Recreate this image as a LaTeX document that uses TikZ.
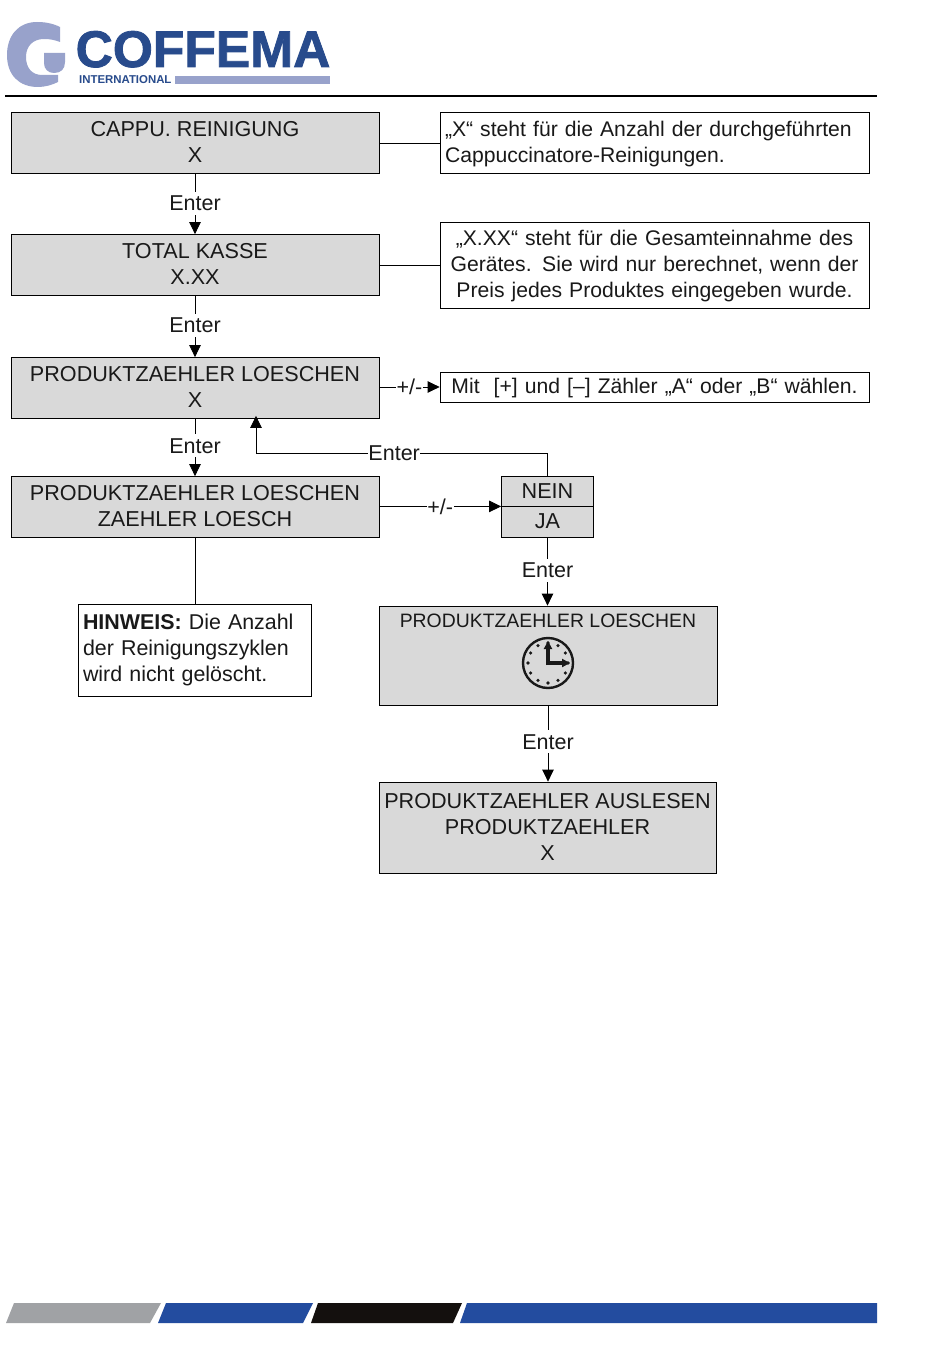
\documentclass[tikz,border=0pt]{standalone}
\usepackage{fontspec}
\setmainfont{Liberation Sans}
\newfontfamily\logofont{Liberation Sans}[BoldFeatures={FakeBold=1.6}]
\usetikzlibrary{arrows.meta}
\newcommand{\upfix}{\rule[-2pt]{0pt}{1pt}}
\newcommand{\downfix}{\rule{0pt}{18pt}}
\definecolor{boxgray}{HTML}{D9D9D9}
\definecolor{logoblue}{HTML}{284B8C}
\definecolor{logolight}{HTML}{98A2CB}
\definecolor{barblue}{HTML}{234C9F}
\definecolor{bargray}{HTML}{A0A2A5}
\definecolor{barblack}{HTML}{14100E}
\tikzset{
  basebox/.style={draw=black,line width=0.8pt,inner sep=0pt,align=center,text=black!90,
    font=\fontsize{21.6}{26}\selectfont},
  graybox/.style={basebox,fill=boxgray},
  notebox/.style={basebox,fill=white,font=\fontsize{21.15}{26}\selectfont},
  conn/.style={draw=black,line width=0.8pt},
  arrowconn/.style={conn,-{Triangle[length=12pt,width=11.5pt]}},
  lbl/.style={fill=white,inner xsep=0.5pt,inner ysep=4pt,text=black!90,font=\fontsize{21.5}{26}\selectfont},
  clockline/.style={draw=black!90,line width=2.4pt},
}
\begin{document}
\begin{tikzpicture}[x=1pt,y=-1pt]
\useasboundingbox[fill=white] (0,0) rectangle (950,1370);
% logo
\fill[logolight] (60,27) .. controls (52,23) and (44,22) .. (37,22)
  .. controls (18,22) and (7,36) .. (7,55)
  .. controls (7,75) and (19,87) .. (38,87)
  .. controls (45,87) and (52,85) .. (58,82) -- (58,75) -- (42,75)
  .. controls (32,75) and (26,68) .. (26,57)
  .. controls (26,46) and (33,39) .. (44,39)
  .. controls (50,39) and (55,40) .. (60,42) -- cycle;
\fill[logolight] (44,53) -- (65,53) -- (65,62) .. controls (65,69) and (61,73) .. (54,73)
  .. controls (48,73) and (44,69) .. (44,63) -- cycle;
\node[anchor=base west,inner sep=0pt,text=logoblue,font=\fontsize{51.5}{52}\logofont\bfseries] (logoname) at (75.5,67) {COFFEMA};
\node[anchor=base west,inner sep=0pt,text=logoblue,font=\fontsize{11.4}{12}\selectfont\bfseries] (logointl) at (79,84) {INTERNATIONAL};
\fill[logolight] (175,76) rectangle (330,84);
\draw[black,line width=1.8pt] (5,96) -- (877,96);
% main boxes
\node[graybox,minimum width=368pt,minimum height=61pt] (a) at (195,143) {CAPPU. REINIGUNG\\X\upfix};
\node[graybox,minimum width=368pt,minimum height=61pt] (b) at (195,265) {TOTAL KASSE\\X.XX\upfix};
\node[graybox,minimum width=368pt,minimum height=61pt] (c) at (195,388) {PRODUKTZAEHLER LOESCHEN\\X\upfix};
\node[graybox,minimum width=368pt,minimum height=61pt] (d) at (195,507) {PRODUKTZAEHLER LOESCHEN\\ZAEHLER LOESCH\upfix};
% notes
\node[notebox,minimum width=429pt,minimum height=61pt,text width=419pt,align=left] (n1) at (654.5,143) {\downfix„X“ steht für die Anzahl der durchgeführten\\Cappuccinatore-Reinigungen.};
\node[notebox,minimum width=429pt,minimum height=86pt,text width=429pt] (n2) at (654.5,265) {\downfix„X.XX“ steht für die Gesamteinnahme des\\Gerätes. Sie wird nur berechnet, wenn der\\Preis jedes Produktes eingegeben wurde.};
\node[notebox,minimum width=429pt,minimum height=30pt,text width=429pt] (n3) at (654.5,387) {\downfix Mit~~[+] und [–] Zähler „A“ oder „B“ wählen.};
% choice
\node[graybox,minimum width=92pt,minimum height=30pt] (nein) at (547.5,491) {NEIN};
\node[graybox,minimum width=92pt,minimum height=31pt] (ja) at (547.5,521.5) {JA};
% hint
\node[notebox,font=\fontsize{21.4}{26}\selectfont,minimum width=233pt,minimum height=92pt,text width=223pt,align=left] (hint) at (194.5,650) {\textbf{HINWEIS:} Die Anzahl\\der Reinigungszyklen\\wird nicht gelöscht.};
% clock box
\node[graybox,minimum width=338pt,minimum height=99pt] (wait) at (548,655.5) {};
\node[anchor=center,inner sep=0pt,text=black!90,font=\fontsize{19.4}{24}\selectfont] (waittitle) at (548,621) {PRODUKTZAEHLER LOESCHEN};
\draw[clockline] (548,663) circle (25);
\foreach \k in {0,30,...,330}{\fill[black!90] (548,663) ++(\k:20) circle (1.8);}
\draw[clockline,line width=3.2pt,-{Triangle[length=8pt,width=8pt]}] (548,665) -- (548,641);
\draw[clockline,line width=3.2pt,-{Triangle[length=8pt,width=8pt]}] (546,663) -- (570,663);
% last box
\node[graybox,minimum width=337pt,minimum height=91pt] (last) at (547.5,827.5) {PRODUKTZAEHLER AUSLESEN\\PRODUKTZAEHLER\\X\upfix};
% connectors
\coordinate (fbk) at (256,453);
\draw[conn] (a.east |- n1.west) -- (n1.west);
\draw[conn] (b.east |- n2.west) -- (n2.west);
\draw[arrowconn] (a.south) -- node[lbl,pos=0.49] (e1) {Enter} (b.north);
\draw[arrowconn] (b.south) -- node[lbl,pos=0.48] (e2) {Enter} (c.north);
\draw[arrowconn] (c.south) -- node[lbl,pos=0.47] (e3) {Enter} (d.north);
\draw[arrowconn] (c.east |- n3.west) -- node[lbl,pos=0.5,inner ysep=1pt] (pm1) {+/-} (n3.west);
\draw[arrowconn] (d.east |- nein.south) -- node[lbl,pos=0.5,inner ysep=1pt] (pm2) {+/-} (nein.south -| nein.west);
\draw[arrowconn,shorten >=-3pt] (nein.north) |- node[lbl,pos=0.763,inner ysep=1pt] (e4) {Enter} (fbk) -- (c.south -| fbk);
\draw[conn] (d.south) -- (hint.north -| d.south);
\draw[arrowconn] (ja.south) -- node[lbl,pos=0.48] (e5) {Enter} (wait.north -| ja.south);
\draw[arrowconn] (wait.south) -- node[lbl,pos=0.48] (e6) {Enter} (last.north -| wait.south);
% footer
\fill[bargray] (14,1303) -- (161,1303) -- (150,1323) -- (6,1323) -- cycle;
\fill[barblue] (166,1303) -- (313,1303) -- (303,1323) -- (158,1323) -- cycle;
\fill[barblack] (318,1303) -- (462,1303) -- (453,1323) -- (311,1323) -- cycle;
\fill[barblue] (467,1303) -- (877,1303) -- (877,1323) -- (460,1323) -- cycle;
\end{tikzpicture}
\end{document}
